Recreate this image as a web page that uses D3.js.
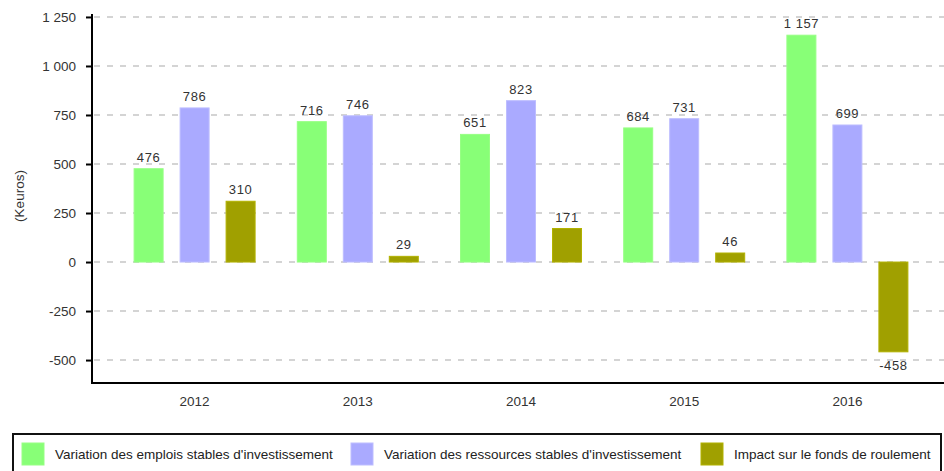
<!DOCTYPE html>
<html><head><meta charset="utf-8">
<script src="https://cdn.jsdelivr.net/npm/d3@7"></script>
<style>body{margin:0;background:#fff}svg{display:block}text{font-family:"Liberation Sans",Arial,sans-serif}</style>
</head><body><svg id="c" width="944" height="471"></svg>
<script>
const categories = ["2012","2013","2014","2015","2016"];
const seriesNames = ["Variation des emplois stables d'investissement","Variation des ressources stables d'investissement","Impact sur le fonds de roulement"];
const emplois = [476, 716, 651, 684, 1157];
const ressources = [786, 746, 823, 731, 699];
const impact = [310, 29, 171, 46, -458];
const yTicks = [-500, -250, 0, 250, 500, 750, 1000, 1250];
const colors = ["#88ff77", "#aaaaff", "#a0a000"];
const yTitle = "(Keuros)";

(function () {
const series = [emplois, ressources, impact];
const svg = d3.select("#c");
const loc = d3.formatLocale({decimal: ",", thousands: "\u00a0", grouping: [3], currency: ["", "€"], minus: "-"});
const fmt = loc.format(",d");
const FS = 13.5;

const pLeft = 92, pRight = 944, pTop = 15, pBottom = 383;
const x = d3.scaleBand().domain(categories).range([113, 929]);
const y = d3.scaleLinear().domain([-617, 1260]).range([pBottom, pTop]);

// grid
svg.append("g").selectAll("line").data(yTicks).join("line")
  .attr("x1", pLeft + 2).attr("x2", pRight).attr("y1", d => y(d)).attr("y2", d => y(d))
  .attr("stroke", "#d4d4d4").attr("stroke-width", 2).attr("stroke-dasharray", "6,7");

// bars
const barW = 29, pitch = 46;
series.forEach((vals, si) => {
  svg.append("g").selectAll("rect").data(vals).join("rect")
    .attr("x", (d, i) => x(categories[i]) + x.bandwidth() / 2 + (si - 1) * pitch - barW / 2)
    .attr("width", barW)
    .attr("y", d => y(Math.max(0, d)))
    .attr("height", d => Math.abs(y(d) - y(0)))
    .attr("fill", colors[si])
    .attr("stroke", d3.color(colors[si]).brighter(0.3)).attr("stroke-width", 1);
  svg.append("g").selectAll("text").data(vals).join("text")
    .attr("x", (d, i) => x(categories[i]) + x.bandwidth() / 2 + (si - 1) * pitch)
    .attr("y", d => d >= 0 ? y(d) - 7 : y(d) + 18)
    .attr("text-anchor", "middle").attr("font-size", 13).attr("fill", "#333")
    .attr("letter-spacing", "0.6px")
    .text(d => fmt(d));
});

// y axis
const ya = svg.append("g").attr("transform", `translate(${pLeft},0)`)
  .call(d3.axisLeft(y).tickValues(yTicks).tickFormat(fmt).tickSize(6).tickPadding(10));
ya.select(".domain").remove();
ya.selectAll(".tick line").attr("stroke", "#000").attr("stroke-width", 2);
ya.selectAll(".tick text").attr("font-size", FS).attr("fill", "#333").attr("font-family", '"Liberation Sans",Arial,sans-serif');
svg.append("line").attr("x1", pLeft).attr("x2", pLeft).attr("y1", pTop - 1).attr("y2", pBottom + 1).attr("stroke", "#000").attr("stroke-width", 2);

// x axis
svg.append("line").attr("x1", pLeft - 1).attr("x2", pRight).attr("y1", pBottom).attr("y2", pBottom).attr("stroke", "#000").attr("stroke-width", 2);
svg.append("g").selectAll("text").data(categories).join("text")
  .attr("x", d => x(d) + x.bandwidth() / 2).attr("y", 406)
  .attr("text-anchor", "middle").attr("font-size", FS).attr("fill", "#333").text(d => d);

// y title
svg.append("text").attr("transform", "translate(24,196) rotate(-90)")
  .attr("text-anchor", "middle").attr("font-size", FS).attr("fill", "#333").text(yTitle);

// legend
svg.append("rect").attr("x", 13).attr("y", 434).attr("width", 928).attr("height", 44)
  .attr("fill", "none").attr("stroke", "#111").attr("stroke-width", 2);
const legX = [22, 351, 701];
const lg = svg.append("g").selectAll("g").data(seriesNames).join("g")
  .attr("transform", (d, i) => `translate(${legX[i]},443)`);
lg.append("rect").attr("width", 22).attr("height", 22).attr("fill", (d, i) => colors[i])
  .attr("stroke", (d, i) => d3.color(colors[i]).brighter(0.3));
lg.append("text").attr("x", 33).attr("y", 12.5).attr("dominant-baseline", "middle")
  .attr("font-size", FS).attr("fill", "#222").text(d => d);
})();
</script></body></html>
